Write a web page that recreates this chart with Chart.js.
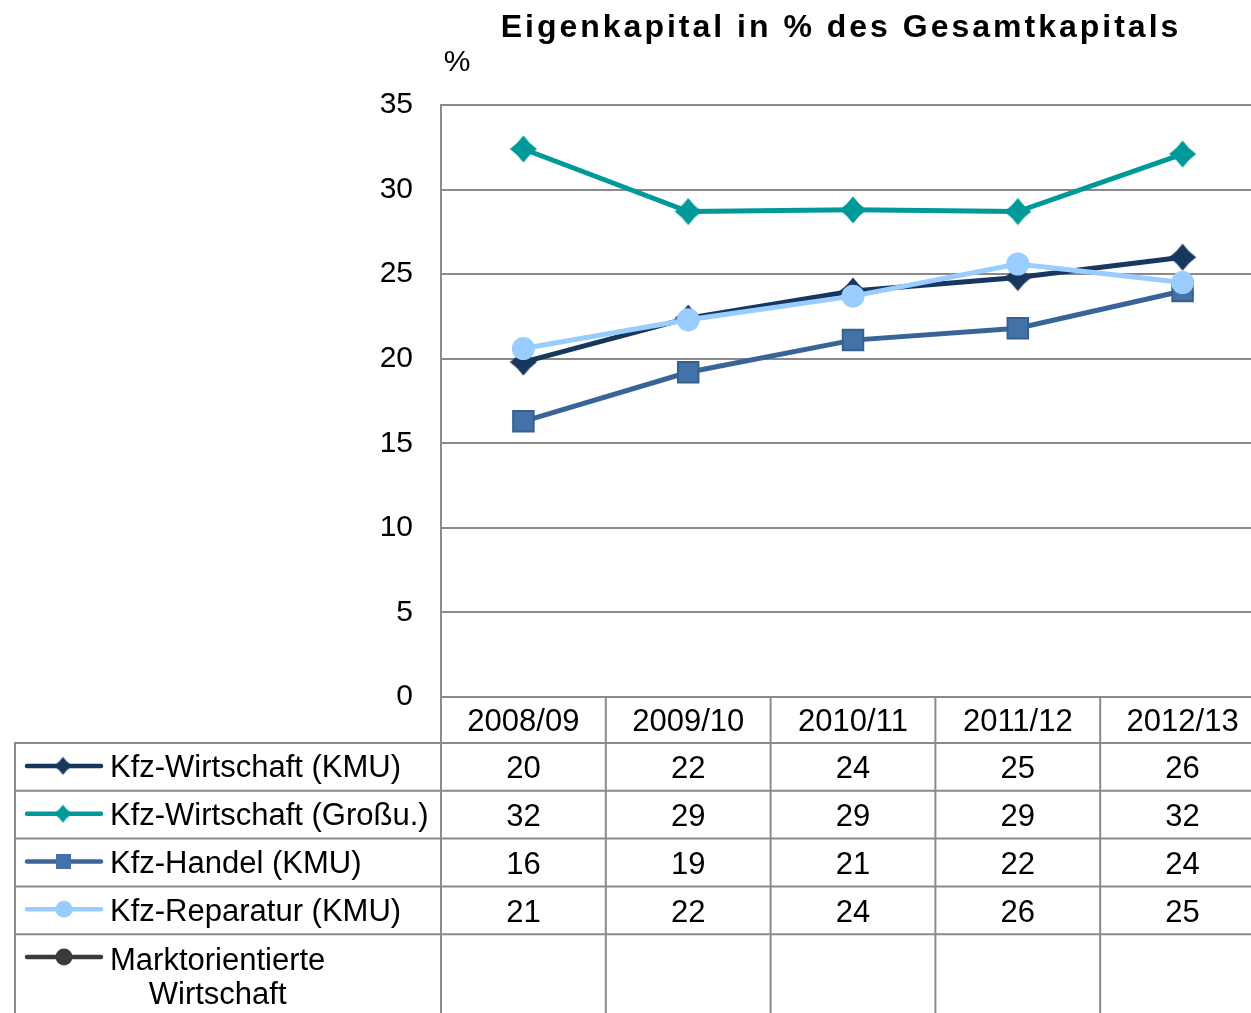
<!DOCTYPE html>
<html>
<head>
<meta charset="utf-8">
<title>Eigenkapital in % des Gesamtkapitals</title>
<script src="https://cdn.jsdelivr.net/npm/chart.js@4/dist/chart.umd.min.js"></script>
<style>
  html, body { margin: 0; padding: 0; background: #fff; overflow: hidden; }
  #wrap { width: 1270px; height: 1013px; }
</style>
</head>
<body>
<div id="wrap"><canvas id="equityChart" width="1270" height="1013"></canvas></div>
<script>
const categories = ['2008/09', '2009/10', '2010/11', '2011/12', '2012/13'];
const seriesNames = ['Kfz-Wirtschaft (KMU)', 'Kfz-Wirtschaft (Großu.)', 'Kfz-Handel (KMU)', 'Kfz-Reparatur (KMU)', 'Marktorientierte Wirtschaft'];
const kfzKmu = [19.8, 22.4, 24.0, 24.8, 26.0];
const kfzGross = [32.4, 28.7, 28.8, 28.7, 32.1];
const kfzHandel = [16.3, 19.2, 21.1, 21.8, 24.0];
const kfzReparatur = [20.6, 22.3, 23.7, 25.6, 24.5];
const marktWirtschaft = [null, null, null, null, null];
const yTicks = [0, 5, 10, 15, 20, 25, 30, 35];

const FONT = '"Liberation Sans", Arial, sans-serif';
const gridColor = '#8a8a8a';

// concave diamond marker like the office one
function makeDiamond(size, color) {
  const c = document.createElement('canvas');
  c.width = size;
  c.height = size;
  const g = c.getContext('2d');
  const m = size / 2, r = size / 2 - 0.5, k = 0.42;
  g.fillStyle = color;
  g.beginPath();
  g.moveTo(m, m - r);
  g.quadraticCurveTo(m + r * k, m - r * k, m + r, m);
  g.quadraticCurveTo(m + r * k, m + r * k, m, m + r);
  g.quadraticCurveTo(m - r * k, m + r * k, m - r, m);
  g.quadraticCurveTo(m - r * k, m - r * k, m, m - r);
  g.closePath();
  g.fill();
  return c;
}

const series = [
  { name: seriesNames[0], data: kfzKmu, color: '#17375e', fill: '#17375e', marker: 'diamond', order: 4 },
  { name: seriesNames[1], data: kfzGross, color: '#009999', fill: '#009999', marker: 'diamond', order: 3 },
  { name: seriesNames[2], data: kfzHandel, color: '#3a6497', fill: '#4472a8', marker: 'square', order: 2 },
  { name: seriesNames[3], data: kfzReparatur, color: '#99ccff', fill: '#99ccff', marker: 'circle', order: 1 },
  { name: seriesNames[4], data: marktWirtschaft, color: '#3a3a3a', fill: '#3a3a3a', marker: 'circle', order: 0 },
];

const datasets = series.map((s) => {
  const ds = {
    label: s.name,
    data: s.data,
    borderColor: s.color,
    borderWidth: 5,
    tension: 0,
    order: s.order,
    pointBackgroundColor: s.fill,
    pointBorderColor: s.color,
    pointRadius: 11.5,
    pointBorderWidth: 0,
  };
  if (s.marker === 'diamond') {
    ds.pointStyle = makeDiamond(28, s.fill);
  } else if (s.marker === 'square') {
    ds.pointStyle = 'rect';
    ds.pointRadius = 14.5;
    ds.pointBorderWidth = 2;
    ds.pointBorderColor = '#36608f';
  } else {
    ds.pointStyle = 'circle';
  }
  return ds;
});

function line(ctx, x1, y1, x2, y2) {
  ctx.beginPath();
  ctx.moveTo(x1, y1);
  ctx.lineTo(x2, y2);
  ctx.stroke();
}

const tablePlugin = {
  id: 'dataTable',
  afterDraw(chart) {
    const { ctx, chartArea, scales } = chart;
    const xs = scales.x;
    const half = (xs.getPixelForValue(1) - xs.getPixelForValue(0)) / 2;
    const left = 15;
    const headTop = chartArea.bottom;
    const rowTop = headTop + 46;
    const rowH = 47.8;
    const bottom = chart.height;

    ctx.save();
    ctx.strokeStyle = gridColor;
    ctx.lineWidth = 2;
    for (let i = 0; i < series.length; i++) {
      const y = rowTop + i * rowH;
      line(ctx, left, y, chart.width, y);
    }
    line(ctx, left, rowTop - 1, left, bottom);
    line(ctx, chartArea.left, headTop, chartArea.left, bottom);
    categories.forEach((c, i) => {
      const bx = xs.getPixelForValue(i) + half;
      line(ctx, bx, headTop, bx, bottom);
    });

    ctx.fillStyle = '#000';
    ctx.font = '31px ' + FONT;
    ctx.textAlign = 'center';
    ctx.textBaseline = 'middle';
    categories.forEach((c, i) => {
      ctx.fillText(c, xs.getPixelForValue(i), headTop + 25);
    });

    series.forEach((s, r) => {
      const cy = rowTop + r * rowH + rowH / 2;
      // legend sample
      ctx.strokeStyle = s.color;
      ctx.lineWidth = 4.5;
      ctx.lineCap = 'round';
      line(ctx, 27, cy - 1, 101, cy - 1);
      ctx.fillStyle = s.fill;
      if (s.marker === 'diamond') {
        const d = makeDiamond(19, s.fill);
        ctx.drawImage(d, 63 - 9.5, cy - 10.5);
      } else if (s.marker === 'square') {
        ctx.fillRect(56, cy - 8.5, 15, 15);
      } else {
        ctx.beginPath();
        ctx.arc(64, cy - 1, 8.5, 0, Math.PI * 2);
        ctx.fill();
      }
      ctx.lineCap = 'butt';

      ctx.fillStyle = '#000';
      ctx.textAlign = 'left';
      if (s.name === 'Marktorientierte Wirtschaft') {
        const parts = s.name.split(' ');
        const w = ctx.measureText(parts[0]).width;
        ctx.fillText(parts[0], 110, cy + 3);
        ctx.textAlign = 'center';
        ctx.fillText(parts[1], 110 + w / 2, cy + 37);
      } else {
        ctx.fillText(s.name, 110, cy + 2);
      }

      ctx.textAlign = 'center';
      s.data.forEach((v, i) => {
        if (v !== null) ctx.fillText(String(Math.round(v)), xs.getPixelForValue(i), cy + 3);
      });
    });

    // title and unit
    ctx.textAlign = 'center';
    ctx.font = 'bold 32px ' + FONT;
    ctx.letterSpacing = '3px';
    ctx.fillText('Eigenkapital in % des Gesamtkapitals', 841, 28);
    ctx.letterSpacing = '0px';
    ctx.font = '30px ' + FONT;
    ctx.fillText('%', 457, 63);
    ctx.restore();
  },
};

new Chart(document.getElementById('equityChart'), {
  type: 'line',
  data: { labels: categories, datasets },
  options: {
    responsive: false,
    animation: false,
    devicePixelRatio: 1,
    layout: { autoPadding: false, padding: { top: 105, left: 0, right: 5, bottom: 316 } },
    plugins: {
      legend: { display: false },
      tooltip: { enabled: false },
      title: { display: false },
    },
    scales: {
      x: {
        type: 'category',
        display: false,
        offset: true,
      },
      y: {
        min: yTicks[0],
        max: yTicks[yTicks.length - 1],
        afterFit: (scale) => { scale.width = 441; },
        ticks: {
          stepSize: yTicks[1] - yTicks[0],
          color: '#000',
          padding: 28,
          font: { family: FONT, size: 30 },
        },
        grid: { color: gridColor, lineWidth: 2, drawTicks: false },
        border: { color: gridColor, width: 2 },
      },
    },
  },
  plugins: [tablePlugin],
});
</script>
</body>
</html>
